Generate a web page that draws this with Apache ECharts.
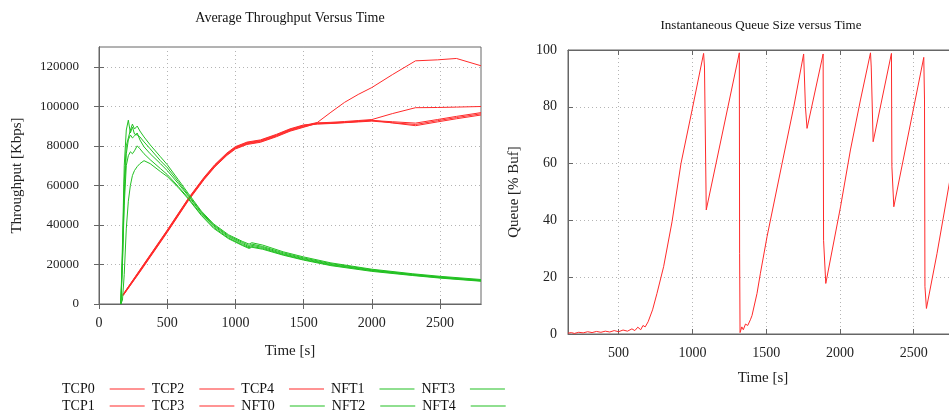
<!DOCTYPE html>
<html>
<head>
<meta charset="utf-8">
<title>Average Throughput and Queue Size versus Time</title>
<script src="https://cdn.jsdelivr.net/npm/echarts@6.0.0/dist/echarts.min.js"></script>
<style>
  html, body { margin: 0; padding: 0; background: #fff; }
  #chart { width: 949px; height: 412px; }
</style>
</head>
<body>
<div id="chart"></div>
<script>
// ---- left panel: average throughput [Kbps] ----
var tcpTime = [176, 300, 500, 656, 770, 850, 938, 1000, 1085, 1183, 1300, 1400, 1500, 1600,
               1700, 1800, 1900, 2000, 2150, 2320, 2480, 2620, 2800];
var tcp0 = [4700, 17100, 37100, 53300, 63800, 70300, 76100, 79300, 81600, 82700, 85500, 88300, 90300, 91800,
            97000, 102000, 106000, 109500, 116000, 123000, 123500, 124200, 120500];
var tcp1 = [4500, 16800, 36800, 53000, 63500, 70000, 75800, 79000, 81300, 82400, 85200, 88000, 90000, 91600,
            91900, 92300, 92800, 93300, 96300, 99300, 99400, 99600, 99900];
var tcp2 = [4300, 16500, 36500, 52700, 63200, 69700, 75500, 78700, 81000, 82100, 84900, 87700, 89700, 91200,
            91400, 91800, 92300, 92800, 92200, 91500, 93300, 94900, 96800];
var tcp3 = [4800, 17300, 37400, 53600, 64100, 70600, 76400, 79600, 81900, 83000, 85800, 88600, 90600, 91000,
            91300, 91700, 92100, 92500, 91700, 90800, 92700, 94300, 96200];
var tcp4 = [4200, 16200, 36200, 52400, 62900, 69400, 75200, 78400, 80700, 81800, 84600, 87400, 89400, 91500,
            91600, 92000, 92500, 93000, 91600, 90200, 92100, 93700, 95600];

var nftTime = [160, 172, 185, 200, 215, 230, 245, 260, 280, 300, 330, 375, 450, 500, 580, 656, 750, 840,
               950, 1050, 1100, 1120, 1200, 1350, 1500, 1700, 2000, 2300, 2500, 2800];
var nft0 = [0, 30000, 70000, 88000, 93000, 86500, 89500, 86000, 85500, 84500, 82000, 78500, 72500, 69000,
            62000, 55000, 46500, 40000, 34500, 31200, 29600, 30300, 29100, 25900, 23300, 20400, 17300, 15000, 13700, 12100];
var nft1 = [0, 25000, 62000, 80000, 84000, 88000, 91000, 88500, 90000, 87500, 84500, 80500, 74500, 70500,
            63000, 55800, 47000, 40500, 35000, 31700, 30300, 31000, 29800, 26400, 23800, 20800, 17600, 15300, 14000, 12400];
var nft2 = [0, 22000, 55000, 76000, 83000, 85500, 84000, 85000, 86500, 83000, 79500, 76000, 71000, 67500,
            61000, 54500, 46000, 39500, 34000, 30600, 29000, 29700, 28600, 25400, 22900, 20000, 17000, 14800, 13500, 11900];
var nft3 = [0, 20000, 50000, 70000, 75000, 77000, 76000, 77500, 80000, 78500, 76000, 73000, 68500, 65500,
            59500, 53500, 45200, 38800, 33400, 30000, 28500, 29100, 28100, 25000, 22500, 19700, 16800, 14600, 13300, 11700];
var nft4 = [0, 2000, 15000, 38000, 52000, 60000, 65000, 67500, 69500, 71000, 72500, 71000, 67000, 64500,
            59000, 53000, 44800, 38300, 33000, 29600, 28100, 28700, 27700, 24700, 22200, 19400, 16500, 14400, 13100, 11500];

// ---- right panel: instantaneous queue [% of buffer] ----
var queueTime = [157, 180, 200, 230, 260, 290, 320, 350, 380, 410, 440, 470, 500, 530, 560, 590, 610, 630,
                 650, 665, 680, 700, 730, 760, 805, 862, 923, 998, 1076, 1082, 1094, 1318, 1320, 1323,
                 1335, 1345, 1360, 1375, 1393, 1404, 1438, 1461, 1506, 1608, 1687, 1754, 1766, 1777,
                 1886, 1889, 1904, 2004, 2071, 2139, 2207, 2212, 2225, 2349, 2352, 2365, 2568, 2573,
                 2576, 2586, 2658, 2745, 2800];
var queueValue = [0.3, 0.5, 0.2, 0.6, 0.4, 0.8, 0.5, 0.9, 0.6, 1.0, 0.7, 1.2, 0.8, 1.4, 1.0, 1.8, 1.2, 2.4,
                  1.5, 3.0, 2.5, 4.3, 8.5, 14.3, 23.7, 39.5, 60.1, 78.9, 98.8, 94, 43.7, 99, 28.4, 0.5,
                  2.5, 1.5, 3.5, 3, 5, 6.5, 14.3, 21.4, 34.3, 60.1, 80, 98.6, 80, 72.4,
                  98.6, 33, 17.8, 44.8, 64.8, 82.4, 99, 94, 67.7, 98.8, 58.9, 44.8, 97.4, 82.4,
                  16.7, 9, 28.4, 54.2, 64];

// tick labels
var leftTimeTicks = [0, 500, 1000, 1500, 2000, 2500];
var rightTimeTicks = [500, 1000, 1500, 2000, 2500];
var throughputTicks = [0, 20000, 40000, 60000, 80000, 100000, 120000];
var queueTicks = [0, 20, 40, 60, 80, 100];

var serif = 'Liberation Serif';
var red = '#ff2a2a';
var green = '#22c022';
var frame = '#666';
var dotted = { show: true, lineStyle: { color: '#b4b4b4', type: [1, 3], width: 1 } };

function pairs(t, v) {
  return t.map(function (x, i) { return [x, v[i]]; });
}

function plain(v) { return String(v); }

function line(name, t, v, color, xi, yi) {
  return {
    name: name, type: 'line', xAxisIndex: xi, yAxisIndex: yi,
    data: pairs(t, v), showSymbol: false, symbol: 'none',
    lineStyle: { color: color, width: 1 }, itemStyle: { color: color },
    emphasis: { disabled: true }
  };
}

function mainAxis(grid, min, max, ticks, extra, labelSize, labelMargin) {
  var a = {
    type: 'value', gridIndex: grid, min: min, max: max,
    axisLine: { show: true, lineStyle: { color: frame } },
    axisTick: { show: true, inside: true, length: 5, lineStyle: { color: frame }, customValues: ticks },
    axisLabel: { customValues: ticks, formatter: plain, margin: labelMargin,
                 fontFamily: serif, fontSize: labelSize, color: '#222' },
    splitLine: dotted,
    nameLocation: 'middle',
    nameTextStyle: { fontFamily: serif, fontSize: 15, color: '#222' }
  };
  for (var k in extra) a[k] = extra[k];
  return a;
}

function mirrorAxis(grid, min, max, ticks, pos) {
  return {
    type: 'value', gridIndex: grid, min: min, max: max, position: pos,
    axisLine: { show: true, lineStyle: { color: frame } },
    axisTick: { show: true, inside: true, length: 5, lineStyle: { color: frame }, customValues: ticks },
    axisLabel: { show: false },
    splitLine: { show: false }
  };
}

var legendCommon = {
  orient: 'horizontal', align: 'right', icon: 'rect',
  itemWidth: 35, itemHeight: 1, itemGap: 7, selectedMode: false,
  textStyle: { fontFamily: serif, fontSize: 14, color: '#111', padding: [0, 10, 0, 0] }
};

var chart = echarts.init(document.getElementById('chart'));
chart.setOption({
  animation: false,
  backgroundColor: '#fff',
  title: [
    { text: 'Average Throughput Versus Time', left: 290, top: 11, textAlign: 'center', padding: 0,
      textStyle: { fontFamily: serif, fontSize: 14, fontWeight: 'normal', color: '#111' } },
    { text: 'Instantaneous Queue Size versus Time', left: 761, top: 19, textAlign: 'center', padding: 0,
      textStyle: { fontFamily: serif, fontSize: 13, fontWeight: 'normal', color: '#111' } }
  ],
  grid: [
    { left: 99, top: 47, width: 382, height: 257, show: true, borderColor: frame, borderWidth: 1,
      outerBoundsMode: 'none' },
    { left: 568, top: 50, width: 390, height: 284, show: true, borderColor: frame, borderWidth: 1,
      outerBoundsMode: 'none' }
  ],
  legend: [
    Object.assign({ data: ['TCP0', 'TCP2', 'TCP4', 'NFT1', 'NFT3'], left: 57, top: 377 }, legendCommon),
    Object.assign({ data: ['TCP1', 'TCP3', 'NFT0', 'NFT2', 'NFT4'], left: 57, top: 394 }, legendCommon)
  ],
  xAxis: [
    mainAxis(0, 0, 2800, leftTimeTicks, { name: 'Time [s]', nameGap: 40 }, 14, 12),
    mirrorAxis(0, 0, 2800, leftTimeTicks, 'top'),
    mainAxis(1, 157, 2800, rightTimeTicks, { name: 'Time [s]', nameGap: 37 }, 14, 12),
    mirrorAxis(1, 157, 2800, rightTimeTicks, 'top')
  ],
  yAxis: [
    mainAxis(0, 0, 130000, throughputTicks, { name: 'Throughput [Kbps]', nameGap: 74 }, 13, 20),
    mirrorAxis(0, 0, 130000, throughputTicks, 'right'),
    mainAxis(1, 0, 100, queueTicks, { name: 'Queue [% Buf]', nameGap: 46 }, 14, 11)
  ],
  series: [
    line('TCP0', tcpTime, tcp0, red, 0, 0),
    line('TCP1', tcpTime, tcp1, red, 0, 0),
    line('TCP2', tcpTime, tcp2, red, 0, 0),
    line('TCP3', tcpTime, tcp3, red, 0, 0),
    line('TCP4', tcpTime, tcp4, red, 0, 0),
    line('NFT0', nftTime, nft0, green, 0, 0),
    line('NFT1', nftTime, nft1, green, 0, 0),
    line('NFT2', nftTime, nft2, green, 0, 0),
    line('NFT3', nftTime, nft3, green, 0, 0),
    line('NFT4', nftTime, nft4, green, 0, 0),
    line('Queue', queueTime, queueValue, red, 2, 2)
  ]
});
</script>
</body>
</html>
